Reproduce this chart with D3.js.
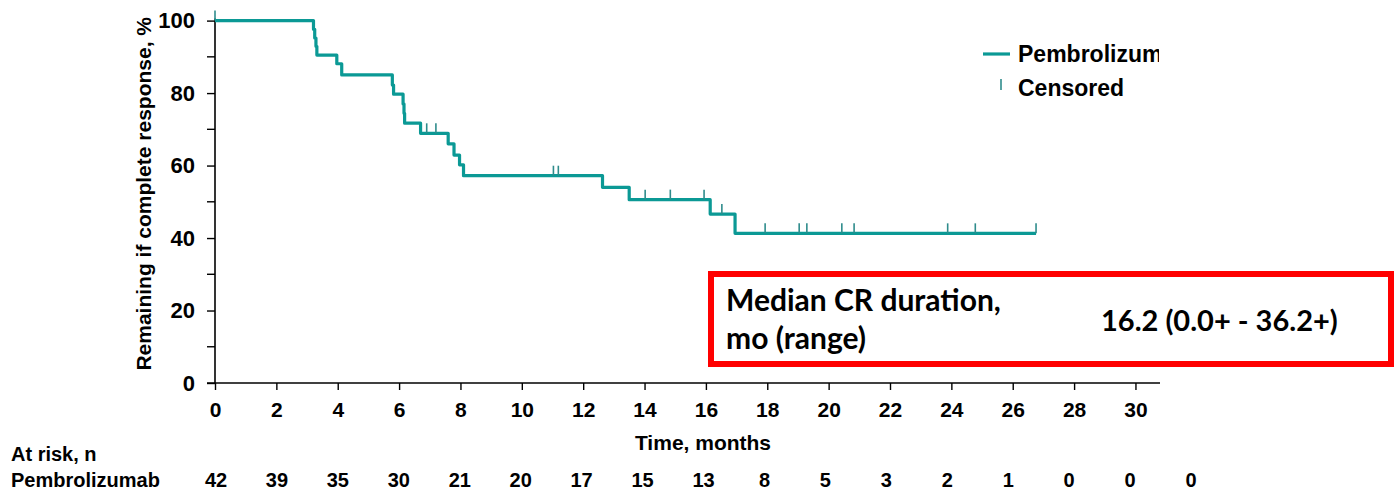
<!DOCTYPE html>
<html>
<head>
<meta charset="utf-8">
<script src="https://cdn.jsdelivr.net/npm/d3@7"></script>
<style>
  html, body { margin: 0; padding: 0; background: #fff; }
  svg { display: block; }
  text { font-family: "Liberation Sans", Arial, sans-serif; fill: #000; }
</style>
</head>
<body>
<svg id="chart" width="1395" height="495"></svg>
<script>
// Kaplan–Meier step points: time (months) and % remaining in CR after each event
const eventTimes   = [0, 3.21, 3.25, 3.29, 3.32, 3.97, 4.13, 5.78, 5.82, 6.13, 6.16, 6.18, 6.70, 7.60, 7.79, 7.97, 8.10, 12.63, 13.50, 16.14, 16.95];
const survivalPct  = [100, 97.6, 95.2, 92.9, 90.5, 88.1, 85.0, 82.2, 79.7, 77.0, 74.4, 71.7, 68.9, 66.0, 62.9, 60.2, 57.2, 54.0, 50.6, 46.6, 41.3];
const lastFollowUp = 26.76;

// censored observations (months)
const censorTimes = [0, 6.9, 7.2, 11.03, 11.19, 14.02, 14.84, 15.94, 16.52, 17.93, 19.04, 19.29, 20.43, 20.83, 23.88, 24.78, 26.76];

// axes
const xTickValues = [0, 2, 4, 6, 8, 10, 12, 14, 16, 18, 20, 22, 24, 26, 28, 30];
const yTickValues = [0, 20, 40, 60, 80, 100];
const yMinorTicks = [10, 30, 50, 70, 90];

// number at risk
const atRiskTimes  = [0, 2, 4, 6, 8, 10, 12, 14, 16, 18, 20, 22, 24, 26, 28, 30, 32];
const atRiskCounts = [42, 39, 35, 30, 21, 20, 17, 15, 13, 8, 5, 3, 2, 1, 0, 0, 0];

const seriesName = "Pembrolizumab";
const teal = "#0b9995";
const censorColor = "#2f8c8c";

const svg = d3.select("#chart");

const x = d3.scaleLinear().domain([0, 30.8]).range([215, 1160]);
const y = d3.scaleLinear().domain([0, 100]).range([383, 20.6]);

// y axis
const yAxis = d3.axisLeft(y).tickValues(yTickValues).tickSize(8).tickPadding(12);
const gy = svg.append("g").attr("transform", `translate(${x(0)},0)`).call(yAxis);
gy.select(".domain").attr("d", `M0,${y(100) - 2}V${y(0)}`).attr("stroke", "#000").attr("stroke-width", 1.6);
gy.selectAll(".tick line").attr("stroke", "#000").attr("stroke-width", 1.4);
gy.selectAll(".tick text").style("font-size", "22px").style("font-weight", "bold").attr("font-family", null);
gy.selectAll(".minor").data(yMinorTicks).join("line")
  .attr("class", "minor")
  .attr("x1", -8).attr("x2", 0)
  .attr("y1", d => y(d)).attr("y2", d => y(d))
  .attr("stroke", "#000").attr("stroke-width", 1.4);

// x axis
const xAxis = d3.axisBottom(x).tickValues(xTickValues).tickSize(7).tickPadding(12);
const gx = svg.append("g").attr("transform", `translate(0,${y(0)})`).call(xAxis);
gx.select(".domain").attr("d", `M${x(0) - 8},0H${x(30.8)}`).attr("stroke", "#000").attr("stroke-width", 1.6);
gx.selectAll(".tick line").attr("stroke", "#000").attr("stroke-width", 1.4);
gx.selectAll(".tick text").style("font-size", "21px").style("font-weight", "bold").attr("font-family", null);

// axis titles
svg.append("text")
  .attr("transform", `translate(151,${(y(0) + y(100)) / 2 - 8}) rotate(-90)`)
  .attr("text-anchor", "middle")
  .style("font-size", "21px").style("font-weight", "bold")
  .text("Remaining if complete response, %");

svg.append("text")
  .attr("x", 703).attr("y", 450)
  .attr("text-anchor", "middle")
  .style("font-size", "21px").style("font-weight", "bold")
  .text("Time, months");

// survival curve
const curvePts = eventTimes.map((t, i) => [t, survivalPct[i]]);
curvePts.push([lastFollowUp, survivalPct[survivalPct.length - 1]]);
const line = d3.line().x(d => x(d[0])).y(d => y(d[1])).curve(d3.curveStepAfter);
svg.append("path")
  .datum(curvePts)
  .attr("d", line)
  .attr("fill", "none")
  .attr("stroke", teal)
  .attr("stroke-width", 3.2)
  .attr("stroke-linejoin", "round");

// censor marks sit on the step function
const survAt = t => survivalPct[Math.max(0, d3.bisectRight(eventTimes, t) - 1)];
svg.append("g").selectAll("line").data(censorTimes).join("line")
  .attr("x1", d => x(d)).attr("x2", d => x(d))
  .attr("y1", d => y(survAt(d))).attr("y2", d => y(survAt(d)) - 10)
  .attr("stroke", censorColor).attr("stroke-width", 1.6);

// legend (label runs past the right edge of the plot and is cut there)
const clip = svg.append("defs").append("clipPath").attr("id", "legclip");
clip.append("rect").attr("x", 960).attr("y", 20).attr("width", 199).attr("height", 90);
const leg = svg.append("g").attr("clip-path", "url(#legclip)");
leg.append("line").attr("x1", 983).attr("x2", 1010).attr("y1", 54).attr("y2", 54)
  .attr("stroke", teal).attr("stroke-width", 3.2);
leg.append("text").attr("x", 1018).attr("y", 62)
  .style("font-size", "23px").style("font-weight", "bold").text(seriesName);
leg.append("line").attr("x1", 1001).attr("x2", 1001).attr("y1", 79).attr("y2", 90)
  .attr("stroke", censorColor).attr("stroke-width", 1.6);
leg.append("text").attr("x", 1018).attr("y", 96)
  .style("font-size", "23px").style("font-weight", "bold").text("Censored");

// median duration box
svg.append("rect")
  .attr("x", 711).attr("y", 274).attr("width", 680).attr("height", 90)
  .attr("fill", "#fff").attr("stroke", "#ff0000").attr("stroke-width", 6);
const boxFont = "Lato, 'Open Sans', sans-serif";
svg.append("text").attr("x", 726).attr("y", 311)
  .style("font-family", boxFont).style("font-size", "30px").style("font-weight", "bold")
  .text("Median CR duration,");
svg.append("text").attr("x", 726).attr("y", 349)
  .style("font-family", boxFont).style("font-size", "30px").style("font-weight", "bold")
  .text("mo (range)");
svg.append("text").attr("x", 1101).attr("y", 331)
  .style("font-family", boxFont).style("font-size", "29px").style("font-weight", "bold")
  .text("16.2 (0.0+ - 36.2+)");

// number-at-risk table
const xr = d3.scaleLinear().domain([0, 32]).range([216, 1191]);
svg.append("text").attr("x", 11).attr("y", 461)
  .style("font-size", "20px").style("font-weight", "bold").text("At risk, n");
svg.append("text").attr("x", 11).attr("y", 487)
  .style("font-size", "20px").style("font-weight", "bold").text(seriesName);
svg.append("g").selectAll("text").data(atRiskCounts).join("text")
  .attr("x", (d, i) => xr(atRiskTimes[i]))
  .attr("y", 487)
  .attr("text-anchor", "middle")
  .style("font-size", "20px").style("font-weight", "bold")
  .text(d => d);
</script>
</body>
</html>
